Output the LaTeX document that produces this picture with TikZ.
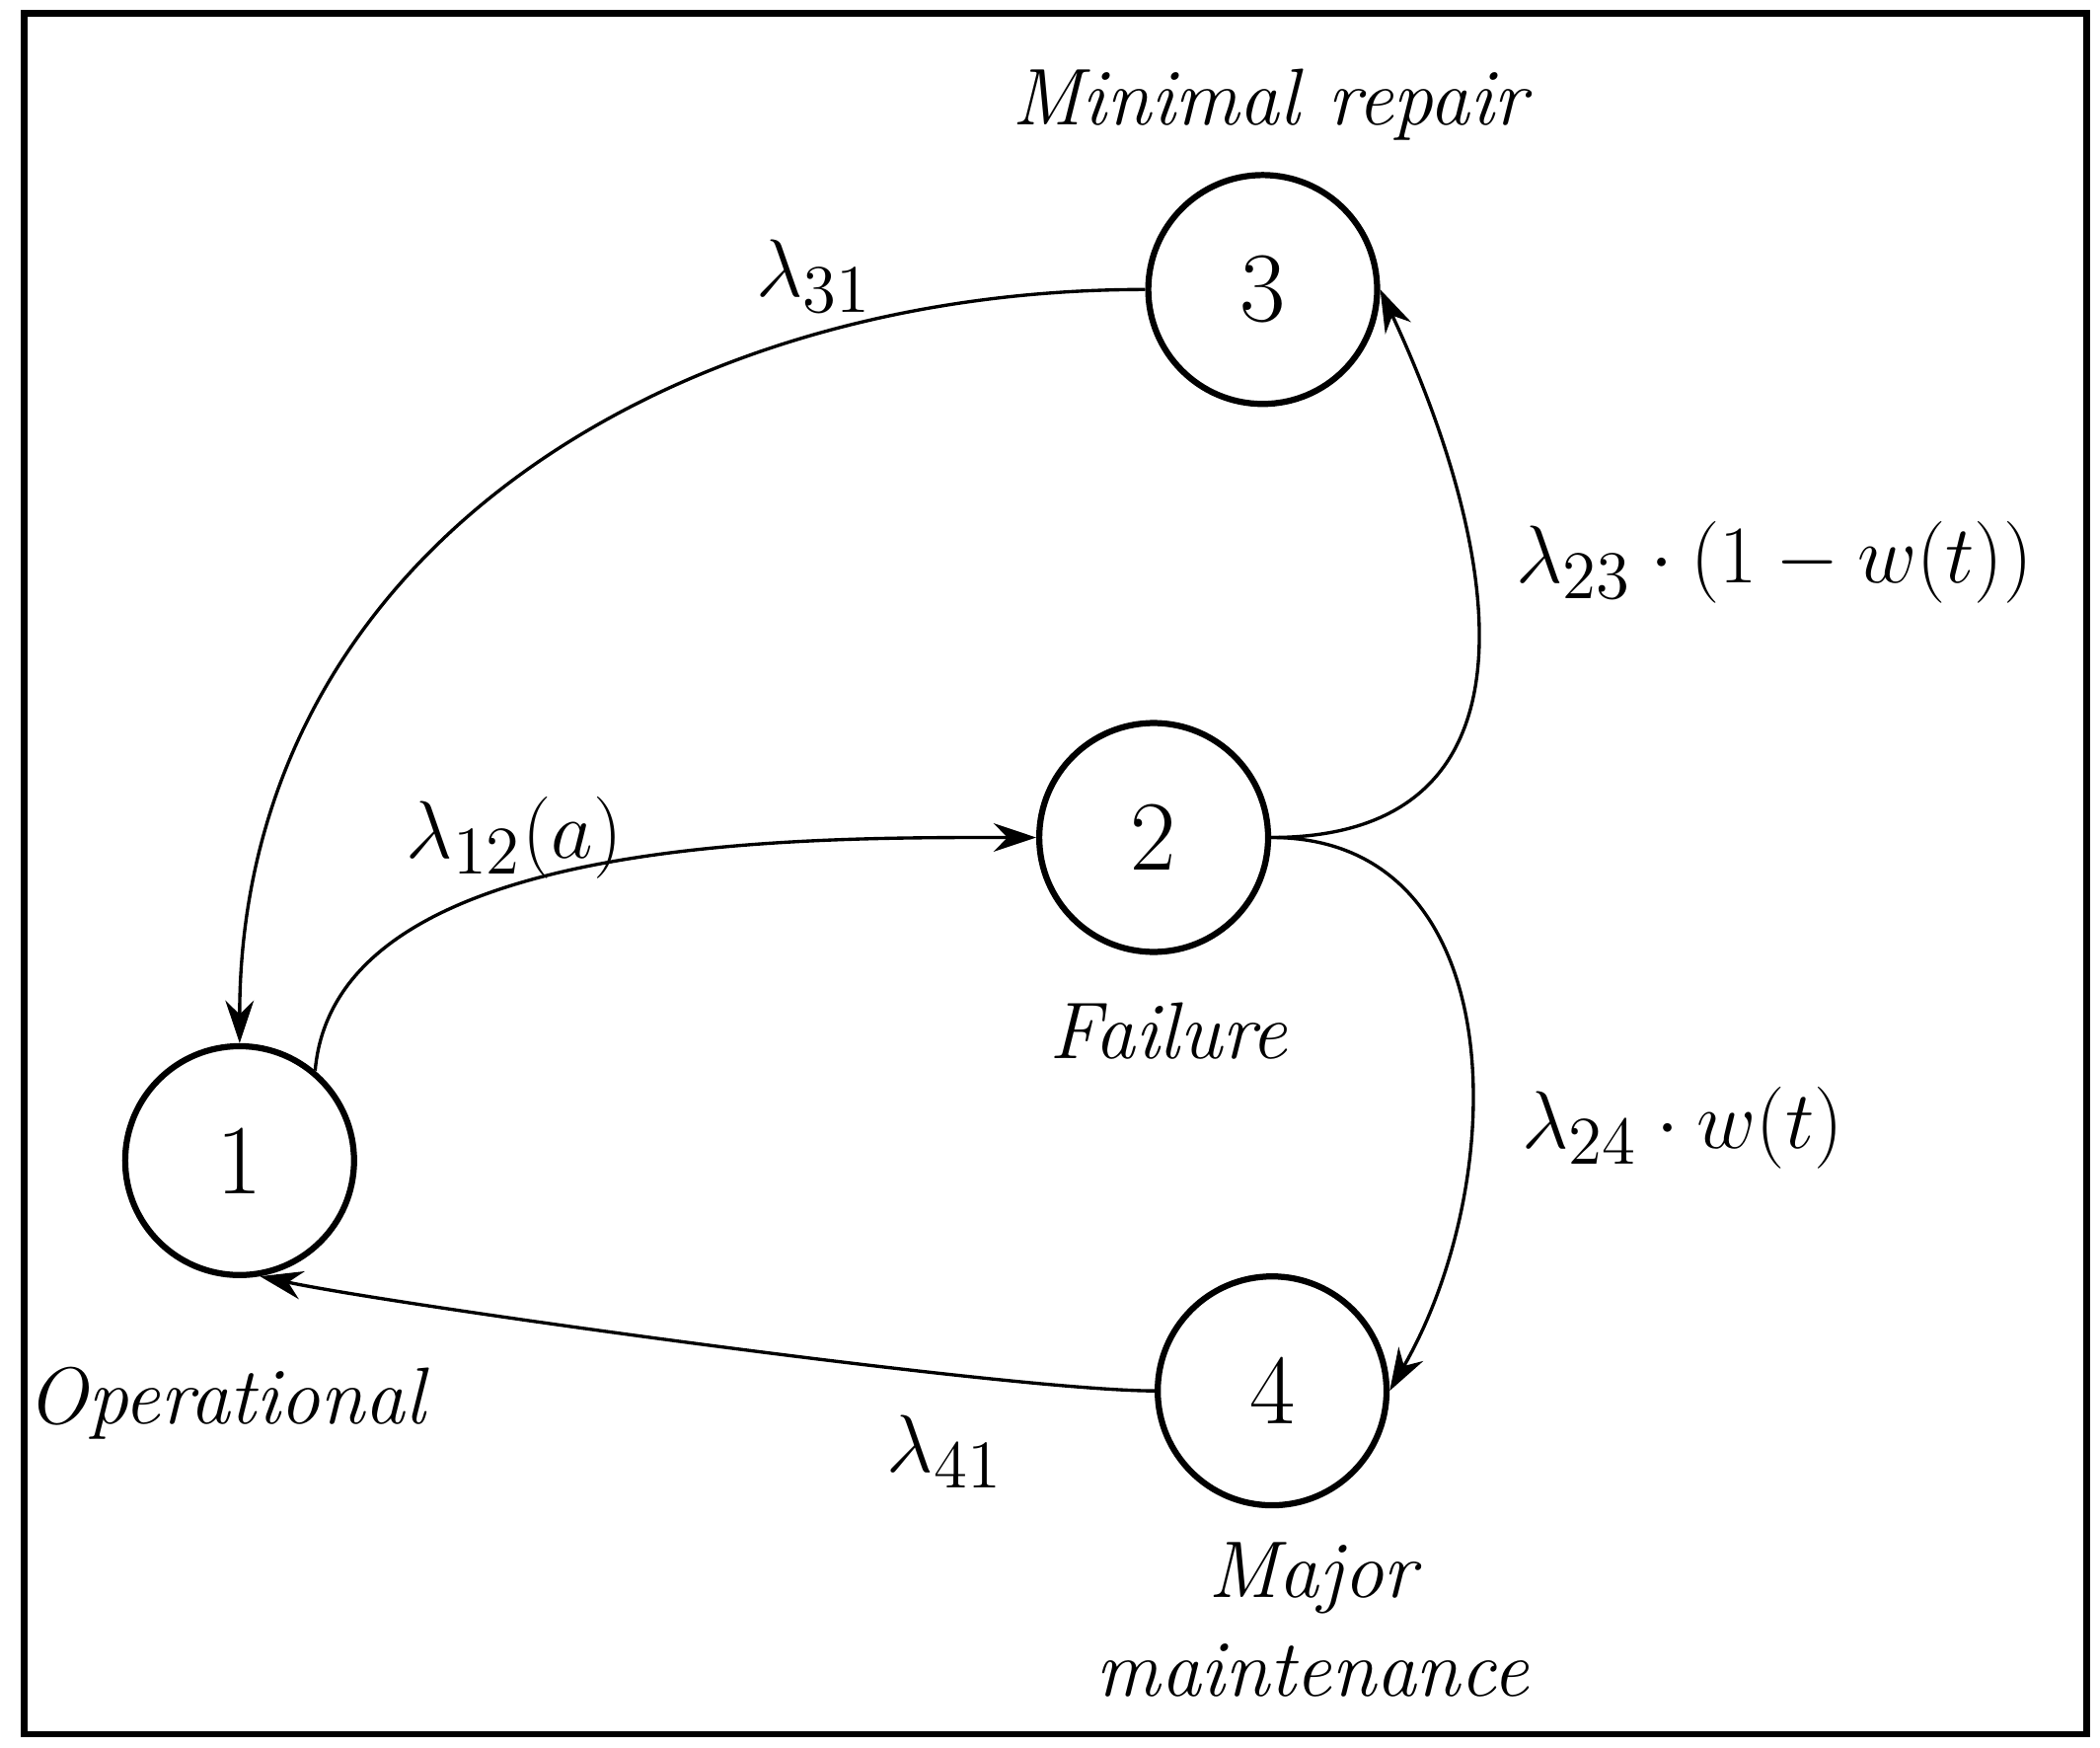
\documentclass[tikz,border=0pt]{standalone}
\usetikzlibrary{arrows.meta}
\begin{document}
\begin{tikzpicture}[y=-1cm]
    \useasboundingbox (0,0) rectangle (15.6,12.98);
    \draw[line width=1.4pt] (0.18,0.1) rectangle (15.5,12.88);
    \begin{scope}[every node/.style = {circle, line width=1.3pt, draw, minimum size=1.7cm, inner sep=0pt, font=\fontsize{21}{25}\selectfont}]
        \node(1) at (1.78,8.62) {1};
        \node(2) at (8.57,6.22) {2};
        \node(3) at (9.38,2.15) {3};
        \node(4) at (9.45,10.33) {4};
    \end{scope}

    \begin{scope}[every node/.style = {font=\fontsize{17}{21}\selectfont\itshape, align=center}]
        \node(minrep) at (9.43,0.78) {Minimal repair};
        \node(fail) at (8.68,7.66) {Failure};
        \node(oper) at (1.68,10.42) {Operational};
        \node(major) at (9.75,12.03) {Major\\maintenance};
    \end{scope}

    \begin{scope}[every edge/.style = {-{Stealth[length=9pt,width=6pt]}, draw, line width=0.7pt}]
        \path(3.west) edge[out=180, in=90, looseness=1.05] (1.north);
        \path(1.50) edge[out=85, in=180, looseness=0.8] (2.west);
        \path(2.east) edge[out=0, in=-65, looseness=1.3] (3.east);
        \path(2.east) edge[out=0, in=60, looseness=1.1] (4.east);
        \path(4.west) edge[out=180, in=-12, looseness=0.4] (1.-80);
    \end{scope}

    \begin{scope}[every node/.style = {font=\fontsize{19}{23}\selectfont}]
        \node(l31) at (6.05,2.05) {$\lambda_{31}$};
        \node(l12) at (3.82,6.22) {$\lambda_{12}(a)$};
        \node(l23) at (13.18,4.18) {$\lambda_{23}\cdot(1-w(t))$};
        \node(l24) at (12.5,8.38) {$\lambda_{24}\cdot w(t)$};
        \node(l41) at (7.02,10.78) {$\lambda_{41}$};
    \end{scope}
\end{tikzpicture}
\end{document}
